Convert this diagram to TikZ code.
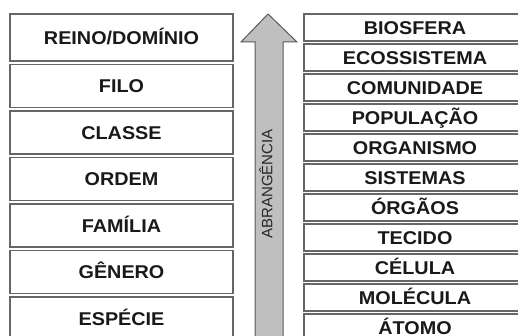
\documentclass[tikz,border=0pt]{standalone}
\usepackage{fontspec}
\setmainfont{Liberation Sans}
\newfontfamily\taxonfont[FakeStretch=1.07]{Liberation Sans}
\usepackage{tikz}
\usetikzlibrary{positioning}
\tikzstyle{taxonbox} = [rectangle, draw=black!60, line width=1.3pt, outer sep=0pt,
    minimum width=223pt, minimum height=43pt, inner sep=0pt, text height=13.2pt,
    text depth=0pt, text=black!90, font=\taxonfont\bfseries\fontsize{18.5}{20}\selectfont]
\tikzstyle{levelbox} = [taxonbox, minimum width=222pt, minimum height=27pt]
\tikzstyle{scalearrow} = [draw=black!65, line width=1pt, fill=black!25]

\begin{document}
\begin{tikzpicture}[x=1pt, y=1pt]
    \useasboundingbox (0,0) rectangle (518,336);
    \clip (0,0) rectangle (518,336);
    % Arrow of scope
    \draw [scalearrow] (255,-10) -- (255,294) -- (241,294) -- (268,322)
        -- (297,294) -- (283,294) -- (283,-10) -- cycle;
    \node [rotate=90, text=black!85, font=\fontsize{15}{16}\selectfont]
        (abrangencia) at (266,152) {ABRANGÊNCIA};
    % Taxonomic ranks
    \node [taxonbox, minimum height=47pt] (reino) at (121.5,298.5) {REINO/DOMÍNIO};
    \node [taxonbox, below=3.5pt of reino] (filo) {FILO};
    \node [taxonbox, below=3.5pt of filo] (classe) {CLASSE};
    \node [taxonbox, below=3.5pt of classe] (ordem) {ORDEM};
    \node [taxonbox, below=3.5pt of ordem] (familia) {FAMÍLIA};
    \node [taxonbox, below=3.5pt of familia] (genero) {GÊNERO};
    \node [taxonbox, below=3.5pt of genero] (especie) {ESPÉCIE};
    % Levels of organization
    \node [levelbox] (biosfera) at (415,308.5) {BIOSFERA};
    \node [levelbox, below=3pt of biosfera] (ecossistema) {ECOSSISTEMA};
    \node [levelbox, below=3pt of ecossistema] (comunidade) {COMUNIDADE};
    \node [levelbox, below=3pt of comunidade] (populacao) {POPULAÇÃO};
    \node [levelbox, below=3pt of populacao] (organismo) {ORGANISMO};
    \node [levelbox, below=3pt of organismo] (sistemas) {SISTEMAS};
    \node [levelbox, below=3pt of sistemas] (orgaos) {ÓRGÃOS};
    \node [levelbox, below=3pt of orgaos] (tecido) {TECIDO};
    \node [levelbox, below=3pt of tecido] (celula) {CÉLULA};
    \node [levelbox, below=3pt of celula] (molecula) {MOLÉCULA};
    \node [levelbox, below=3pt of molecula] (atomo) {ÁTOMO};
\end{tikzpicture}
\end{document}
